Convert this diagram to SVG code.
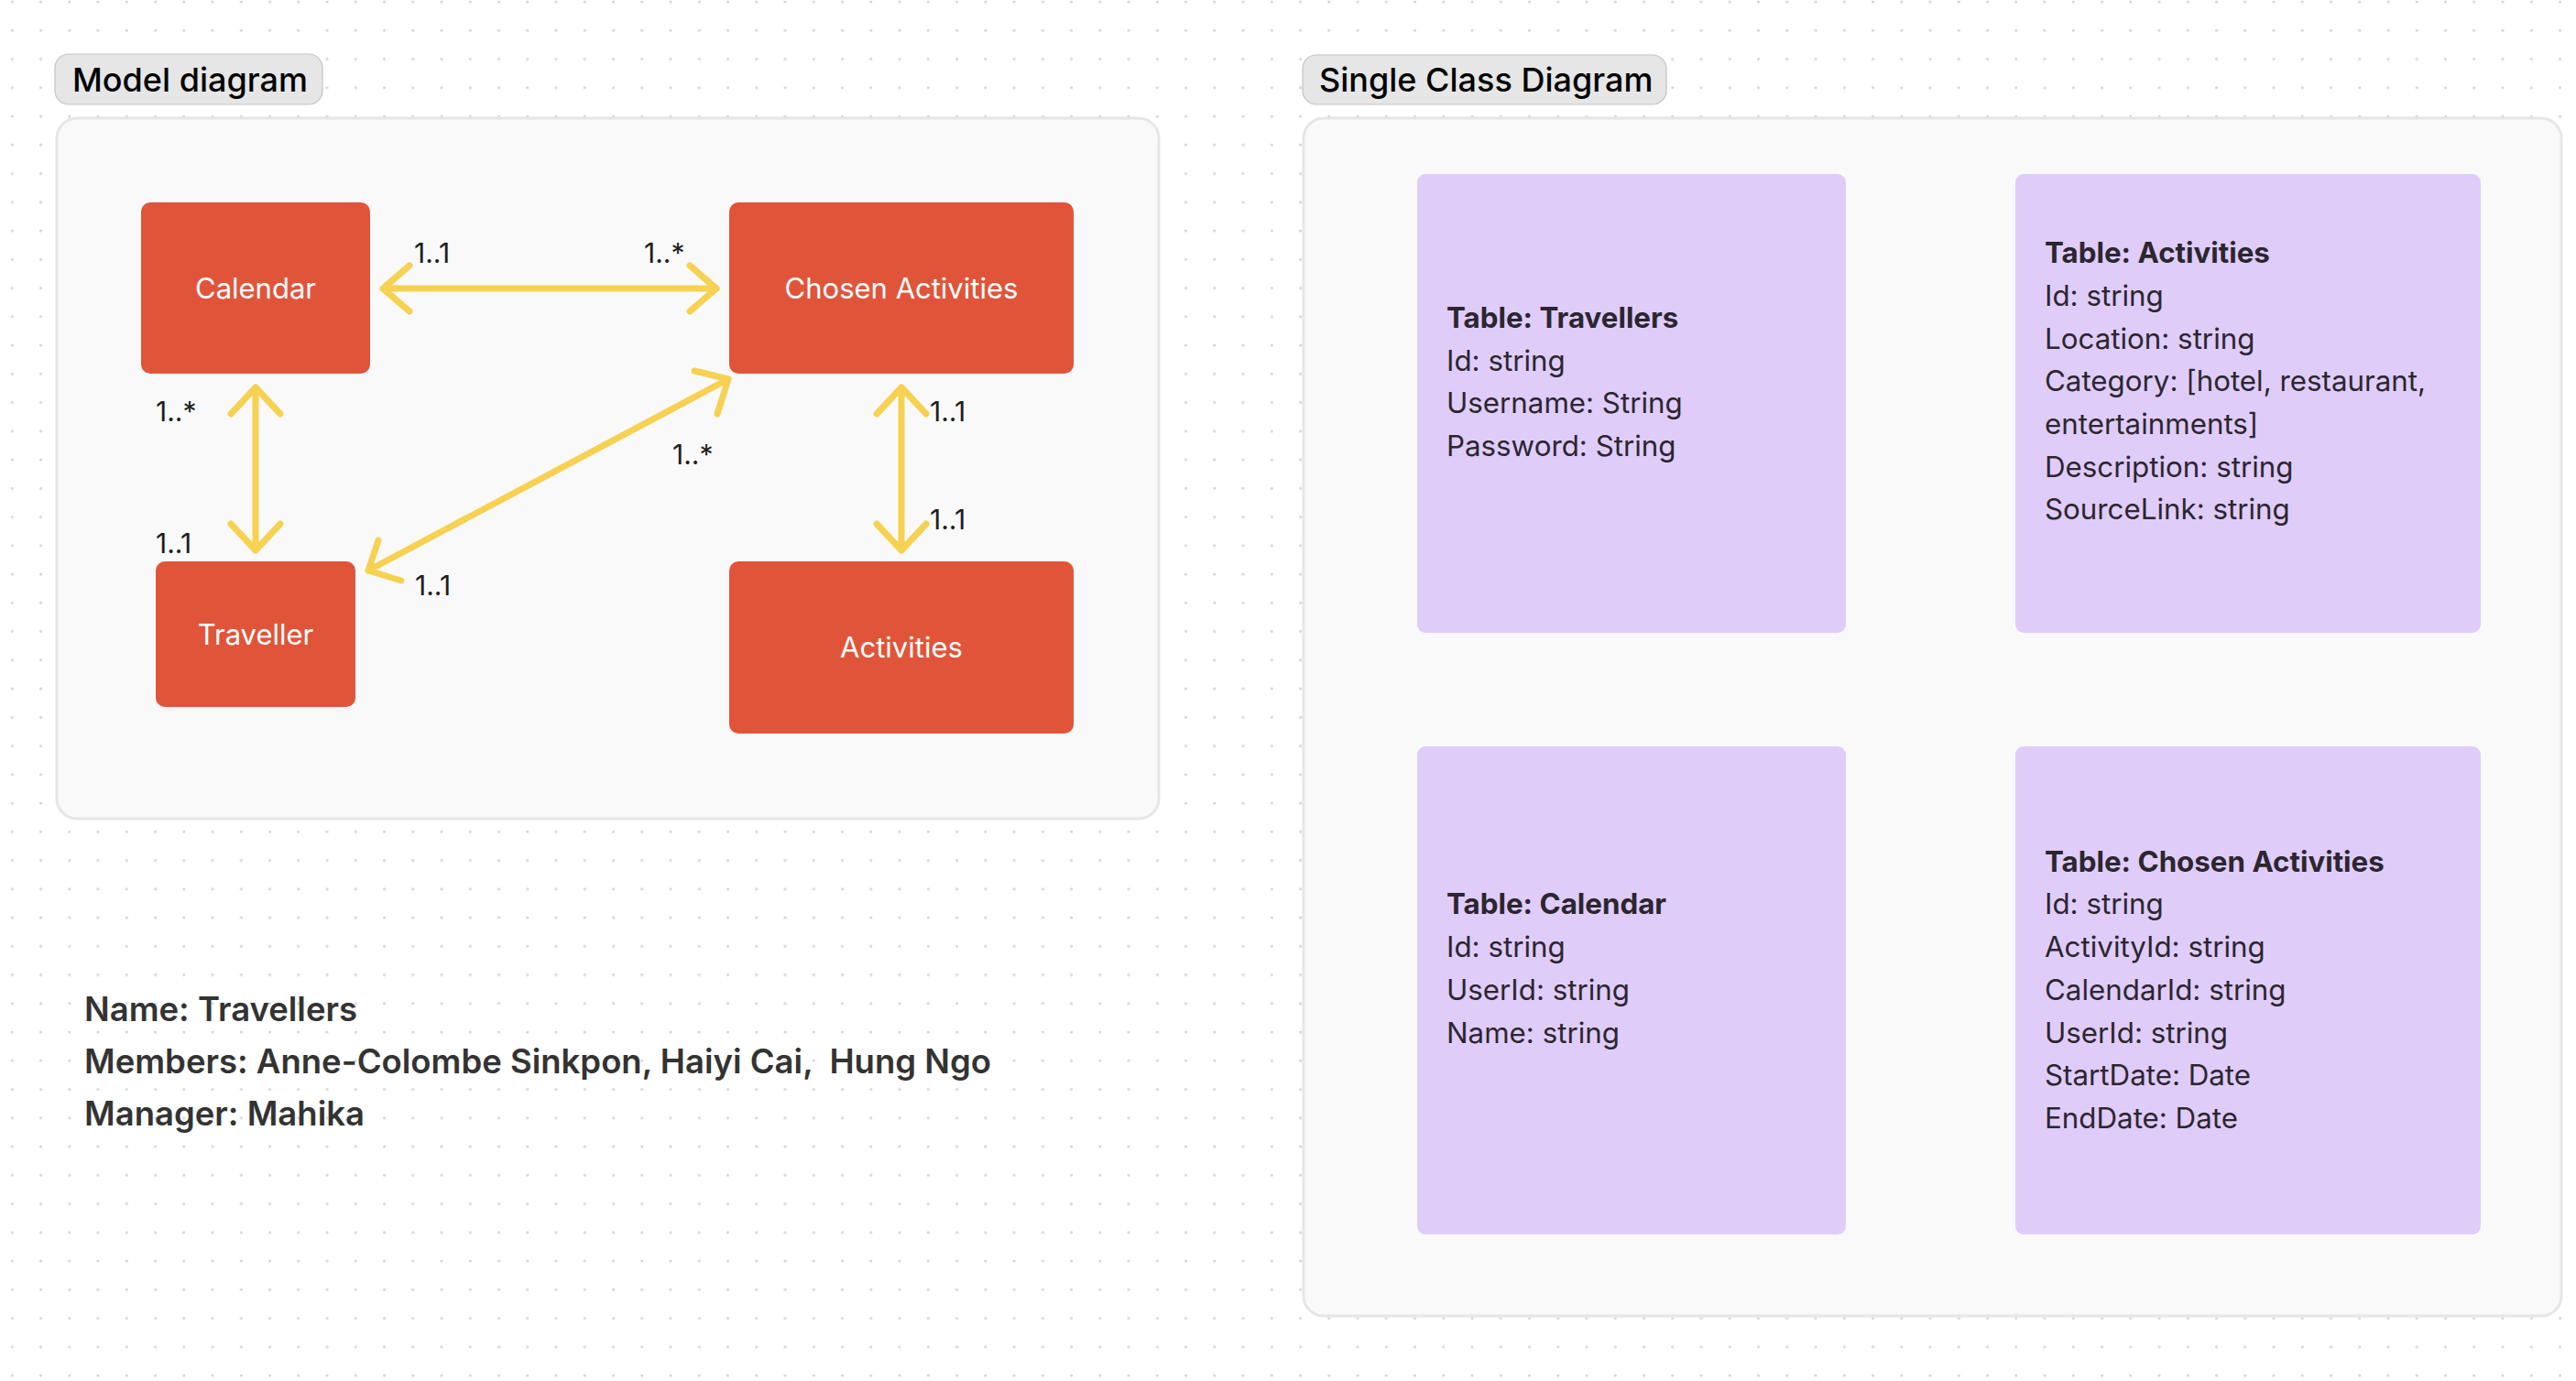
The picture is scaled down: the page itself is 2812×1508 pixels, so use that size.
<svg xmlns="http://www.w3.org/2000/svg" width="2812" height="1508" viewBox="0 0 2812 1508">
  <defs>
    <pattern id="dots" patternUnits="userSpaceOnUse" x="0" y="0" width="31.25" height="31.25">
      <circle cx="13.3" cy="2" r="1.6" fill="#d6d6d6"/>
    </pattern>
    <style>
      .bg { fill: #ffffff; }
      .frame { fill: #f9f9f9; stroke: #e6e6e6; stroke-width: 3; }
      .tag { fill: #e6e6e6; stroke: #c4c4c4; stroke-width: 1.2; }
      .tagtext { font-family: Inter, "Liberation Sans", sans-serif; font-size: 36px; font-weight: 500; fill: #000000; }
      .node { fill: #e0553a; }
      .nodetext { font-family: Inter, "Liberation Sans", sans-serif; font-size: 31px; fill: #ffffff; text-anchor: middle; }
      .conn { fill: none; stroke: #f6d152; stroke-width: 7; stroke-linecap: round; stroke-linejoin: round; }
      .mult { font-family: Inter, "Liberation Sans", sans-serif; font-size: 30px; fill: #1e1e1e; }
      .card { fill: #e0ccf9; }
      .cardtext { font-family: Inter, "Liberation Sans", sans-serif; font-size: 31.3px; fill: #2b2630; }
      .cardtitle { font-weight: 700; }
      .info { font-family: Inter, "Liberation Sans", sans-serif; font-size: 36.5px; font-weight: 600; fill: #333333; white-space: pre; }
    </style>
  </defs>

  <rect class="bg" x="0" y="0" width="2812" height="1508"/>
  <rect x="0" y="0" width="2812" height="1508" fill="url(#dots)"/>

  <!-- Model diagram section -->
  <g id="model-diagram-tag">
    <rect class="tag" x="60" y="59" width="292" height="55" rx="15"/>
    <text class="tagtext" x="79" y="100">Model diagram</text>
  </g>
  <rect id="model-frame" class="frame" x="62" y="129" width="1203" height="765" rx="22"/>

  <g id="node-calendar">
    <rect class="node" x="154" y="221" width="250" height="187" rx="10"/>
    <text class="nodetext" x="279" y="326">Calendar</text>
  </g>
  <g id="node-chosen-activities">
    <rect class="node" x="796" y="221" width="376" height="187" rx="10"/>
    <text class="nodetext" x="984" y="326">Chosen Activities</text>
  </g>
  <g id="node-traveller">
    <rect class="node" x="170" y="613" width="218" height="159" rx="10"/>
    <text class="nodetext" x="279" y="704">Traveller</text>
  </g>
  <g id="node-activities">
    <rect class="node" x="796" y="613" width="376" height="188" rx="10"/>
    <text class="nodetext" x="984" y="718">Activities</text>
  </g>

  <g id="connectors">
    <!-- Calendar <-> Chosen Activities -->
    <path class="conn" d="M418,315 L782,315 M447,290 L418,315 L447,340 M753,290 L782,315 L753,340"/>
    <!-- Calendar <-> Traveller -->
    <path class="conn" d="M279,423 L279,601 M252,452 L279,423 L306,452 M252,572 L279,601 L306,572"/>
    <!-- Chosen Activities <-> Activities -->
    <path class="conn" d="M984,423 L984,601 M957,452 L984,423 L1011,452 M957,572 L984,601 L1011,572"/>
    <!-- Traveller <-> Chosen Activities -->
    <path class="conn" d="M402,623 L795,414 M758,405 L795,414 L783,452 M413,590 L402,623 L438,634"/>
  </g>

  <g id="multiplicities">
    <text class="mult" x="452" y="287">1..1</text>
    <text class="mult" x="703" y="287">1..*</text>
    <text class="mult" x="170" y="460">1..*</text>
    <text class="mult" x="170" y="604">1..1</text>
    <text class="mult" x="734" y="507">1..*</text>
    <text class="mult" x="453" y="650">1..1</text>
    <text class="mult" x="1015" y="460">1..1</text>
    <text class="mult" x="1015" y="578">1..1</text>
  </g>

  <g id="team-info">
    <text class="info" x="92" y="1115">Name: Travellers</text>
    <text class="info" x="92" y="1172">Members: Anne-Colombe Sinkpon, Haiyi Cai,  Hung Ngo</text>
    <text class="info" x="92" y="1229">Manager: Mahika</text>
  </g>

  <!-- Single Class Diagram section -->
  <g id="single-class-tag">
    <rect class="tag" x="1422" y="60" width="397" height="54" rx="15"/>
    <text class="tagtext" x="1440" y="100">Single Class Diagram</text>
  </g>
  <rect id="class-frame" class="frame" x="1423" y="129" width="1373" height="1308" rx="22"/>

  <g id="table-travellers">
    <rect class="card" x="1547" y="190" width="468" height="501" rx="9"/>
    <text class="cardtext" x="1579">
      <tspan class="cardtitle" x="1579" y="358">Table: Travellers</tspan>
      <tspan x="1579" y="405">Id: string</tspan>
      <tspan x="1579" y="451">Username: String</tspan>
      <tspan x="1579" y="498">Password: String</tspan>
    </text>
  </g>
  <g id="table-activities">
    <rect class="card" x="2200" y="190" width="508" height="501" rx="9"/>
    <text class="cardtext" x="2232">
      <tspan class="cardtitle" x="2232" y="287">Table: Activities</tspan>
      <tspan x="2232" y="334">Id: string</tspan>
      <tspan x="2232" y="381">Location: string</tspan>
      <tspan x="2232" y="427">Category: [hotel, restaurant,</tspan>
      <tspan x="2232" y="474">entertainments]</tspan>
      <tspan x="2232" y="521">Description: string</tspan>
      <tspan x="2232" y="567">SourceLink: string</tspan>
    </text>
  </g>
  <g id="table-calendar">
    <rect class="card" x="1547" y="815" width="468" height="533" rx="9"/>
    <text class="cardtext" x="1579">
      <tspan class="cardtitle" x="1579" y="998">Table: Calendar</tspan>
      <tspan x="1579" y="1045">Id: string</tspan>
      <tspan x="1579" y="1092">UserId: string</tspan>
      <tspan x="1579" y="1139">Name: string</tspan>
    </text>
  </g>
  <g id="table-chosen-activities">
    <rect class="card" x="2200" y="815" width="508" height="533" rx="9"/>
    <text class="cardtext" x="2232">
      <tspan class="cardtitle" x="2232" y="952">Table: Chosen Activities</tspan>
      <tspan x="2232" y="998">Id: string</tspan>
      <tspan x="2232" y="1045">ActivityId: string</tspan>
      <tspan x="2232" y="1092">CalendarId: string</tspan>
      <tspan x="2232" y="1139">UserId: string</tspan>
      <tspan x="2232" y="1185">StartDate: Date</tspan>
      <tspan x="2232" y="1232">EndDate: Date</tspan>
    </text>
  </g>
</svg>
